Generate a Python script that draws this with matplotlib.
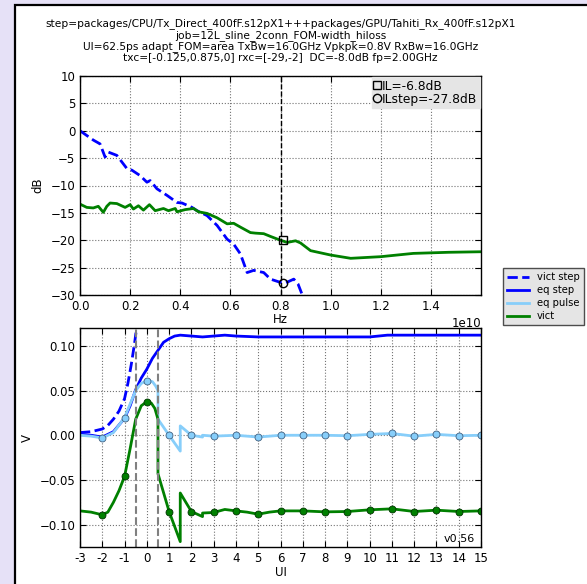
import numpy as np
import matplotlib
matplotlib.use("Agg")
import matplotlib.pyplot as plt
from matplotlib.patches import Rectangle
from matplotlib.lines import Line2D

# ---- data ----
title_lines = [
    "step=packages/CPU/Tx_Direct_400fF.s12pX1+++packages/GPU/Tahiti_Rx_400fF.s12pX1",
    "job=12L_sline_2conn_FOM-width_hiloss",
    "UI=62.5ps adapt_FOM=area TxBw=16.0GHz Vpkpk=0.8V RxBw=16.0GHz",
    "txc=[-0.125,0.875,0] rxc=[-29,-2]  DC=-8.0dB fp=2.00GHz",
]

# top panel: insertion loss, frequency in GHz
step_f = [0, 0.53, 0.8, 1.0, 1.13, 1.47, 1.87, 2.07, 2.4, 2.67, 2.8, 3.07, 3.47, 3.87,
          4.07, 4.47, 4.67, 5.07, 5.47, 5.87, 6.13, 6.4, 6.67, 6.93, 7.33, 7.6, 8.0,
          8.2, 8.53, 8.7, 8.87, 9.0]
step_db = [0, -1.7, -2.4, -4.8, -3.9, -4.5, -6.9, -7.2, -8.2, -9.4, -9.1, -10.6, -11.8,
           -13.1, -13.2, -14.0, -14.6, -15.5, -17.3, -19.8, -20.7, -22.5, -25.9, -25.5,
           -25.9, -27.1, -27.7, -27.8, -27.1, -28.0, -30.0, -31.0]

vict_f = [0, 0.27, 0.53, 0.73, 0.93, 1.07, 1.2, 1.47, 1.8, 2.0, 2.13, 2.33, 2.53, 2.77,
          3.0, 3.33, 3.53, 3.8, 3.87, 4.2, 4.53, 4.73, 5.07, 5.47, 5.87, 6.13, 6.4, 6.8,
          7.0, 7.33, 7.6, 8.0, 8.27, 8.6, 8.8, 9.2, 10.0, 10.8, 12.0, 13.3, 14.7, 16.0]
vict_db = [-13.4, -14.0, -14.1, -13.8, -14.9, -13.8, -13.2, -13.3, -14.0, -13.5, -14.3,
           -13.7, -14.5, -13.5, -14.6, -14.2, -14.6, -14.2, -14.8, -14.4, -14.2, -14.8,
           -15.1, -15.9, -17.0, -16.9, -17.6, -18.6, -18.7, -18.8, -19.3, -20.0, -20.4,
           -20.1, -20.5, -21.9, -22.7, -23.3, -23.0, -22.4, -22.2, -22.1]

fp_ghz = 8.0
il_mark_f = 8.1
il_mark_db = -20.0
ilstep_mark_db = -27.8
il_labels = ["IL=-6.8dB", "ILstep=-27.8dB"]

# bottom panel: time domain in UI
vstep_ui = [-3, -2.5, -2, -1.75, -1.5, -1.25, -1, -0.85, -0.7, -0.55, -0.45]
vstep_v = [0.003, 0.004, 0.007, 0.011, 0.018, 0.027, 0.041, 0.058, 0.079, 0.103, 0.122]

eqstep_ui = [-3, -2.5, -2, -1.5, -1, -0.75, -0.5, -0.25, 0, 0.25, 0.5, 0.75, 1.0, 1.25,
             1.5, 2, 2.5, 3, 3.5, 4, 5, 6, 9, 10, 10.8, 15]
eqstep_v = [0.001, 0.000, -0.002, 0.004, 0.019, 0.033, 0.051, 0.064, 0.074, 0.086, 0.095,
            0.104, 0.108, 0.111, 0.112, 0.111, 0.110, 0.111, 0.112, 0.111, 0.110, 0.110,
            0.110, 0.110, 0.112, 0.112]

pulse_ui = [-3, -2.5, -2, -1.5, -1, -0.75, -0.5, -0.25, 0, 0.25, 0.4, 0.5, 0.5, 1.0, 1.5,
            1.5, 2.0, 2.5, 2.5, 3, 4, 5, 6, 7, 8, 9, 10, 11, 12, 13, 14, 15]
pulse_v = [0.000, -0.001, -0.003, 0.003, 0.0196, 0.035, 0.050, 0.058, 0.061, 0.060, 0.055,
           0.050, 0.018, 0.000, -0.0177, 0.0105, 0.000, -0.002, 0.000, -0.001, 0.000,
           -0.002, 0.000, 0.000, 0.000, -0.0005, 0.001, 0.002, -0.001, 0.001, -0.0005, 0.000]

vict_ui = [-3, -2.5, -2, -1.75, -1.5, -1.25, -1, -0.75, -0.5, -0.25, 0, 0.2, 0.36, 0.5,
           0.5, 1.0, 1.5, 1.5, 2.0, 2.5, 2.5, 3.0, 3.5, 4, 4.5, 5, 5.5, 6, 7, 8, 9, 10,
           11, 12, 13, 14, 15]
vict_v = [-0.0846, -0.086, -0.089, -0.086, -0.075, -0.062, -0.046, -0.015, 0.018, 0.033,
          0.0376, 0.036, 0.030, 0.018, -0.043, -0.0853, -0.119, -0.0646, -0.0853, -0.091,
          -0.087, -0.0864, -0.083, -0.0846, -0.086, -0.0883, -0.086, -0.0846, -0.0846,
          -0.0857, -0.0853, -0.0834, -0.0823, -0.0853, -0.0838, -0.0853, -0.0846]

# sampled values at whole UI
samp_ui = list(range(-2, 16))
pulse_samp = [-0.003, 0.0196, 0.061, 0.000, 0.000, -0.001, 0.000, -0.002, 0.000, 0.000,
              0.000, -0.0005, 0.001, 0.002, -0.001, 0.001, -0.0005, 0.000]
vict_samp = [-0.089, -0.0459, 0.0376, -0.0853, -0.0853, -0.0864, -0.0846, -0.0883, -0.0846,
             -0.0846, -0.0857, -0.0853, -0.0834, -0.0823, -0.0853, -0.0838, -0.0853, -0.0846]

ui_ticks = list(range(-3, 16))
cursor_ui = [-0.5, 0.5]
version = "v0.56"

# ---- figure ----
W, H = 587, 584
fig = plt.figure(figsize=(W / 100, H / 100), dpi=100, facecolor="#e6e1f7")
plt.rcParams["font.size"] = 8.5

# white page with black border
fig.add_artist(Rectangle((15 / W, -0.05), 1.2, 1 - 5 / H + 0.05, transform=fig.transFigure,
                         facecolor="white", edgecolor="black", linewidth=1.6, zorder=-10))

ax1 = fig.add_axes([80 / W, 1 - 295 / H, 401 / W, 219 / H])
ax2 = fig.add_axes([80 / W, 1 - 547 / H, 401 / W, 219 / H])

for ax in (ax1, ax2):
    ax.grid(True, color="0.45", linestyle=":", linewidth=0.8)
    ax.tick_params(direction="in", top=True, right=True, length=4, labelsize=8.5)
    for s in ax.spines.values():
        s.set_linewidth(1.0)

# top panel
ax1.plot(np.array(step_f) * 1e9, step_db, "b--", linewidth=2)
ax1.plot(np.array(vict_f) * 1e9, vict_db, color="green", linewidth=2)
ax1.axvline(fp_ghz * 1e9, color="black", linestyle="--", linewidth=1)
ax1.plot([il_mark_f * 1e9], [il_mark_db], "s", mfc="none", mec="black", ms=6)
ax1.plot([il_mark_f * 1e9], [ilstep_mark_db], "o", mfc="none", mec="black", ms=6)
ax1.set_xlim(0, 1.6e10)
ax1.set_ylim(-30, 10)
ax1.set_xticks(np.arange(0, 1.5e10, 0.2e10))
ax1.set_ylabel("dB")
ax1.set_xlabel("Hz", labelpad=0)
ax1.set_title("\n".join(title_lines), fontsize=7.7, linespacing=1.12, pad=10.5)

h_il = [Line2D([], [], marker="s", ls="none", mfc="none", mec="black", ms=6),
        Line2D([], [], marker="o", ls="none", mfc="none", mec="black", ms=6)]
ax1.legend(h_il, il_labels, loc="upper right", borderaxespad=0.1, handlelength=0.5,
           handletextpad=0.15, labelspacing=0.0, borderpad=0.2, fancybox=False,
           facecolor="#e5e5e5", edgecolor="#e5e5e5", framealpha=1, fontsize=8.8)

# bottom panel
l1, = ax2.plot(vstep_ui, vstep_v, "b--", linewidth=2)
l2, = ax2.plot(eqstep_ui, eqstep_v, "b-", linewidth=2)
l3, = ax2.plot(pulse_ui, pulse_v, color="lightskyblue", linewidth=2)
l4, = ax2.plot(vict_ui, vict_v, color="green", linewidth=2)
ax2.plot(samp_ui, pulse_samp, "o", color="lightskyblue", mec="#406080", mew=0.6, ms=5)
ax2.plot(samp_ui, vict_samp, "o", color="green", mec="#003300", mew=0.6, ms=5)
for c in cursor_ui:
    ax2.axvline(c, color="gray", linestyle="--", linewidth=1.5)
ax2.set_xlim(-3, 15)
ax2.set_ylim(-0.125, 0.12)
ax2.set_xticks(ui_ticks)
ax2.set_xticklabels([str(u) for u in ui_ticks])
ax2.set_yticks([-0.10, -0.05, 0.0, 0.05, 0.10])
ax2.set_ylabel("V")
ax2.set_xlabel("UI", labelpad=1)
ax2.text(0.985, 0.015, version, transform=ax2.transAxes, ha="right", va="bottom", fontsize=8)

fig.legend([l1, l2, l3, l4], ["vict step", "eq step", "eq pulse", "vict"],
           loc="upper left", bbox_to_anchor=(503 / W, 1 - 268 / H), borderaxespad=0,
           fancybox=False, facecolor="#e5e5e5", edgecolor="0.3", framealpha=1,
           fontsize=7.2, handlelength=2.2, labelspacing=0.3)

fig.savefig("out.png", dpi=100, facecolor=fig.get_facecolor())
